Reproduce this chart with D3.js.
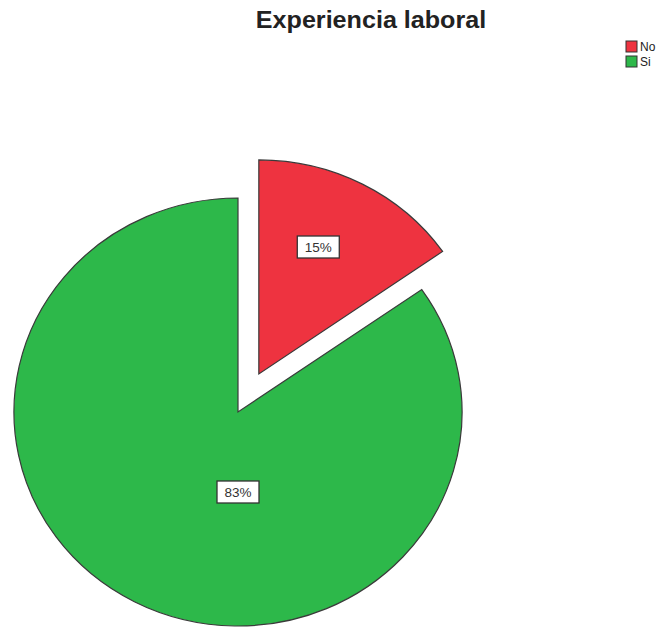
<!DOCTYPE html>
<html>
<head>
<meta charset="utf-8">
<script src="https://cdn.jsdelivr.net/npm/d3@7"></script>
<style>
  html, body { margin: 0; padding: 0; background: #fff; }
  svg { display: block; }
</style>
</head>
<body>
<svg id="chart" width="669" height="628"></svg>
<script>
// Chart data
const title = "Experiencia laboral";
const categories = ["No", "Si"];
const values = [15, 83];
const labels = ["15%", "83%"];
const colors = ["#ee3340", "#2db84a"];

const svg = d3.select("#chart");

const cx = 238, cy = 412;
const radius = 214;
const xStretch = 1.047;
const explode = 43;

svg.append("text")
  .attr("transform", `translate(371,28) scale(${xStretch},1)`)
  .attr("text-anchor", "middle")
  .attr("font-family", "Liberation Sans, Arial, sans-serif")
  .attr("font-weight", "bold")
  .attr("font-size", 24)
  .attr("fill", "#222")
  .text(title);

const pie = d3.pie().sort(null).value(d => d);
const arcs = pie(values);
const arc = d3.arc().innerRadius(0).outerRadius(radius);

const g = svg.append("g")
  .attr("transform", `translate(${cx},${cy}) scale(${xStretch},1)`);

// The first slice is pulled out along its mid-angle
const offsetOf = (d, i) => {
  if (i !== 0) return [0, 0];
  const a = (d.startAngle + d.endAngle) / 2;
  return [Math.sin(a) * explode, -Math.cos(a) * explode];
};

g.selectAll("path.slice")
  .data(arcs)
  .join("path")
  .attr("class", "slice")
  .attr("d", arc)
  .attr("transform", (d, i) => {
    const [dx, dy] = offsetOf(d, i);
    return `translate(${dx},${dy})`;
  })
  .attr("fill", (d, i) => colors[i])
  .attr("stroke", "#3a3a3a")
  .attr("stroke-width", 1.2)
  .attr("vector-effect", "non-scaling-stroke");

// Value labels in boxed tags
const labelPos = (d, i) => {
  const [dx, dy] = offsetOf(d, i);
  let a, r;
  if (i === 0) { a = (d.startAngle + d.endAngle) / 2 - 0.06; r = 139; }
  else { a = Math.PI; r = 80; }
  return [cx + (dx + Math.sin(a) * r) * xStretch, cy + dy - Math.cos(a) * r];
};

const lab = svg.selectAll("g.lab")
  .data(arcs)
  .join("g")
  .attr("class", "lab")
  .attr("transform", (d, i) => {
    const [x, y] = labelPos(d, i);
    return `translate(${x},${y})`;
  });

lab.append("rect")
  .attr("x", -21).attr("y", -11)
  .attr("width", 42).attr("height", 22)
  .attr("fill", "#fff")
  .attr("stroke", "#333")
  .attr("stroke-width", 1.3);

lab.append("text")
  .attr("text-anchor", "middle")
  .attr("dy", "0.36em")
  .attr("font-family", "Liberation Sans, Arial, sans-serif")
  .attr("font-size", 13.5)
  .attr("fill", "#333")
  .text((d, i) => labels[i]);

// Legend
const legend = svg.append("g").attr("transform", "translate(626,41)");
const item = legend.selectAll("g")
  .data(categories)
  .join("g")
  .attr("transform", (d, i) => `translate(0,${i * 15})`);

item.append("rect")
  .attr("width", 11).attr("height", 11)
  .attr("fill", (d, i) => colors[i])
  .attr("stroke", "#333")
  .attr("stroke-width", 1);

item.append("text")
  .attr("x", 14).attr("y", 10)
  .attr("font-family", "Liberation Sans, Arial, sans-serif")
  .attr("font-size", 12)
  .attr("fill", "#222")
  .text(d => d);
</script>
</body>
</html>
